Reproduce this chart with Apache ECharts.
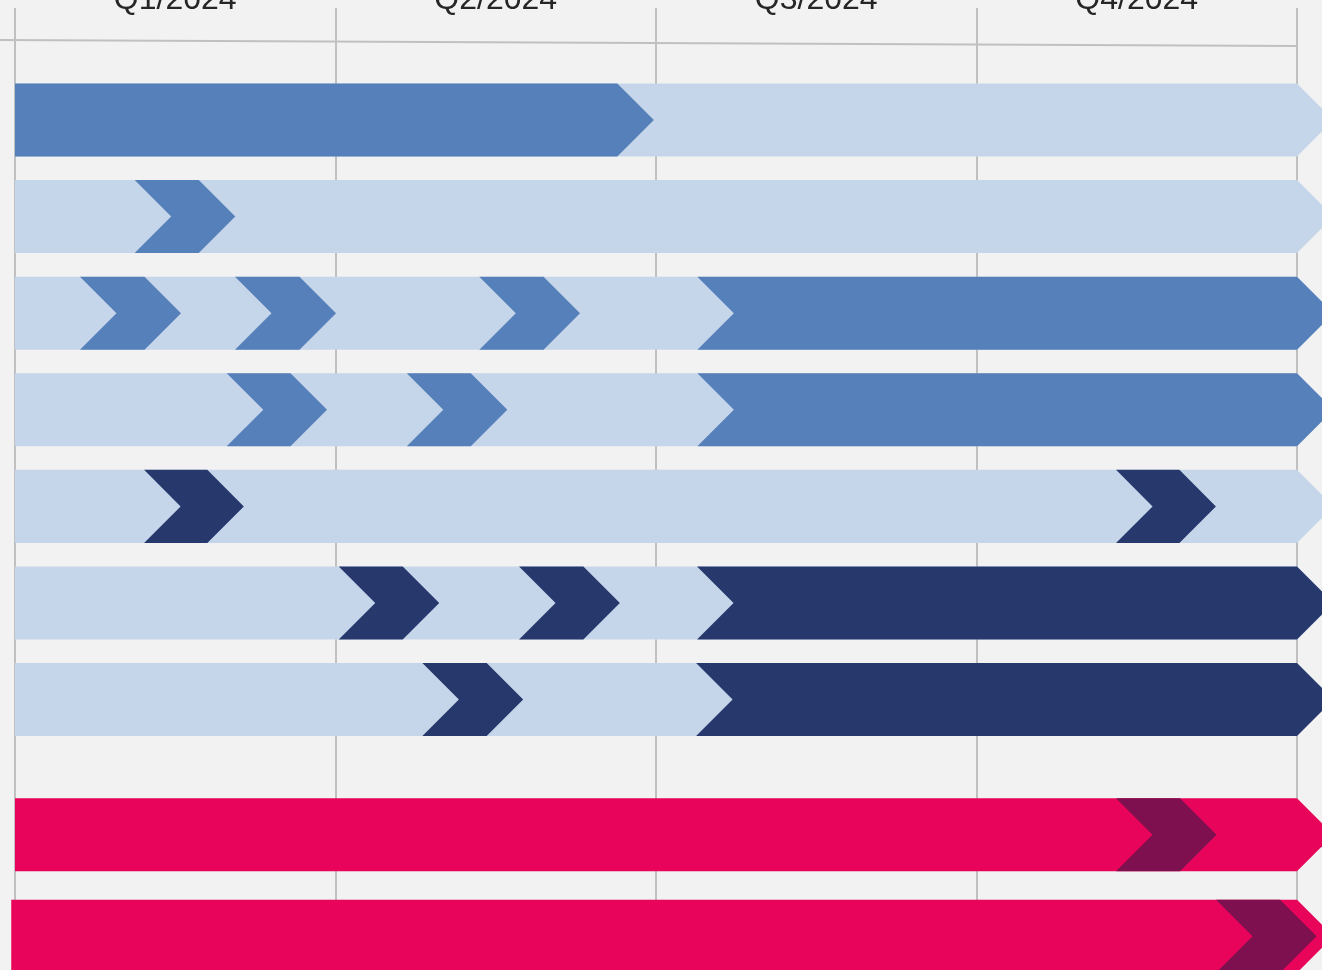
<!DOCTYPE html>
<html>
<head>
	<meta charset="utf-8"/>
	<title>Roadmap 2024</title>
	<script src="https://cdn.jsdelivr.net/npm/echarts@6/dist/echarts.min.js"></script>
	<style>
		html, body { margin: 0; padding: 0; background: #f2f2f2; }
		#chart { width: 1322px; height: 970px; }
	</style>
</head>
<body>
<div id="chart"></div>
<script>
    // quarters on top
    var quarters = ['Q1/2024', 'Q2/2024', 'Q3/2024', 'Q4/2024'];
    // row centres (in row units, there is a gap before the pink rows)
    var rowPos = [0, 1, 2, 3, 4, 5, 6, 7.4, 8.45];
    // background bar of each row: start month, end month, colour
    var baseStart = [0, 0, 0, 0, 0, 0, 0, 0, -0.035];
    var baseEnd = [12, 12, 12, 12, 12, 12, 12, 12, 12];
    var baseColor = ['light', 'light', 'light', 'light', 'light', 'light', 'light', 'pink', 'pink'];
    // long phases: row, start month, end month, colour
    var phases = [
        [0, 0, 5.638, 'blue'],
        [2, 6.387, 12, 'blue'],
        [3, 6.387, 12, 'blue'],
        [5, 6.384, 12, 'navy'],
        [6, 6.375, 12, 'navy']
    ];
    // chevron milestones: row, start month, end month, colour
    var milestones = [
        [1, 1.120, 1.720, 'blue'],
        [2, 0.608, 1.212, 'blue'],
        [2, 2.059, 2.663, 'blue'],
        [2, 4.346, 4.947, 'blue'],
        [3, 1.982, 2.579, 'blue'],
        [3, 3.667, 4.266, 'blue'],
        [4, 1.208, 1.800, 'navy'],
        [4, 10.306, 10.899, 'navy'],
        [5, 3.030, 3.629, 'navy'],
        [5, 4.718, 5.320, 'navy'],
        [6, 3.813, 4.415, 'navy'],
        [7, 10.306, 10.905, 'plum'],
        [8, 11.242, 11.841, 'plum']
    ];

    var colors = {
        light: '#c5d5ea',
        blue: '#5680b9',
        navy: '#27386d',
        pink: '#e8045a',
        plum: '#7e1050'
    };
    var BAR_H = 0.756; // bar height in row units

    function toItems(list) {
        return list.map(function (r) {
            return { value: [rowPos[r[0]], r[1], r[2]], itemStyle: { color: colors[r[3]] } };
        });
    }
    var baseItems = rowPos.map(function (p, i) {
        return { value: [p, baseStart[i], baseEnd[i]], itemStyle: { color: colors[baseColor[i]] } };
    });

    // arrow shape; left notch only when it does not start at the left edge
    function renderArrow(params, api) {
        var y = api.value(0);
        var s = api.value(1);
        var e = api.value(2);
        var p0 = api.coord([s, y]);
        var p1 = api.coord([e, y]);
        var half = api.size([0, BAR_H])[1] / 2;
        var d = half;
        var pts = [
            [p0[0], p0[1] - half],
            [p1[0], p1[1] - half],
            [p1[0] + d, p1[1]],
            [p1[0], p1[1] + half],
            [p0[0], p0[1] + half]
        ];
        if (s > 0) pts.push([p0[0] + d, p0[1]]);
        return {
            type: 'polygon',
            shape: { points: pts },
            style: { fill: api.visual('color') }
        };
    }

    var chart = echarts.init(document.getElementById('chart'));
    var option = {
        backgroundColor: '#f2f2f2',
        animation: false,
        grid: { left: 15, right: 25, top: 8, bottom: 0, outerBoundsMode: 'none', containLabel: false },
        xAxis: [
            {
                type: 'value',
                min: 0,
                max: 12,
                interval: 3,
                axisLine: { show: false },
                axisTick: { show: false },
                axisLabel: { show: false },
                splitLine: { show: true, lineStyle: { color: '#c0c0c0', width: 2 } }
            },
            {
                type: 'category',
                position: 'top',
                data: quarters,
                boundaryGap: true,
                offset: -8,
                axisLine: { show: false },
                axisTick: { show: false },
                splitLine: { show: false },
                axisLabel: {
                    margin: 0,
                    fontSize: 32,
                    color: '#262626',
                    fontFamily: 'Liberation Sans, Arial, sans-serif'
                }
            }
        ],
        yAxis: {
            type: 'value',
            inverse: true,
            min: -1.159,
            max: 8.799,
            show: false
        },
        graphic: [{
            type: 'line',
            shape: { x1: 0, y1: 40, x2: 1297, y2: 46 },
            style: { stroke: '#c0c0c0', lineWidth: 2 },
            z: 1
        }],
        series: [
            { type: 'custom', renderItem: renderArrow, data: baseItems, z: 2 },
            { type: 'custom', renderItem: renderArrow, data: toItems(phases), z: 3 },
            { type: 'custom', renderItem: renderArrow, data: toItems(milestones), z: 4 }
        ]
    };
    chart.setOption(option);
</script>
</body>
</html>
